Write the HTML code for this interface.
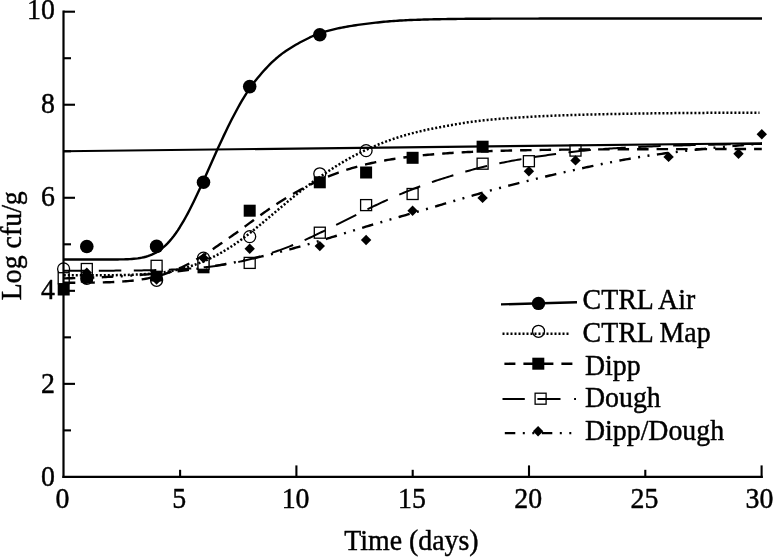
<!DOCTYPE html>
<html lang="en"><head><meta charset="utf-8"><title>Log cfu/g vs Time (days)</title>
<style>html,body{margin:0;padding:0;background:#fff}svg{display:block;will-change:transform}text{font-family:"Liberation Serif","Times New Roman",serif;fill:#000;stroke:#000;stroke-width:0.45px;stroke-linejoin:round}</style></head><body>
<svg width="774" height="557" viewBox="0 0 774 557">
<rect width="774" height="557" fill="#fff"/>
<g id="markers">
<circle cx="86.8" cy="246.5" r="6.8" fill="#000"/>
<circle cx="156.6" cy="246.4" r="6.8" fill="#000"/>
<circle cx="203.5" cy="182.3" r="6.8" fill="#000"/>
<circle cx="249.7" cy="86.6" r="6.8" fill="#000"/>
<circle cx="319.8" cy="34.8" r="6.8" fill="#000"/>
<circle cx="63.6" cy="268.9" r="6.0" fill="#fff" stroke="#000" stroke-width="1.3"/>
<circle cx="86.8" cy="278.4" r="6.0" fill="#fff" stroke="#000" stroke-width="1.3"/>
<circle cx="156.6" cy="280.3" r="6.0" fill="#fff" stroke="#000" stroke-width="1.3"/>
<circle cx="203.5" cy="258.1" r="6.0" fill="#fff" stroke="#000" stroke-width="1.3"/>
<circle cx="249.7" cy="236.6" r="6.0" fill="#fff" stroke="#000" stroke-width="1.3"/>
<circle cx="319.8" cy="173.8" r="6.0" fill="#fff" stroke="#000" stroke-width="1.3"/>
<circle cx="366.1" cy="150.6" r="6.0" fill="#fff" stroke="#000" stroke-width="1.3"/>
<rect x="57.70" y="283.50" width="12" height="12" fill="#000"/>
<rect x="80.80" y="270.70" width="12" height="12" fill="#000"/>
<rect x="150.60" y="269.50" width="12" height="12" fill="#000"/>
<rect x="197.50" y="261.30" width="12" height="12" fill="#000"/>
<rect x="243.70" y="204.70" width="12" height="12" fill="#000"/>
<rect x="313.80" y="176.30" width="12" height="12" fill="#000"/>
<rect x="360.10" y="166.50" width="12" height="12" fill="#000"/>
<rect x="406.60" y="151.80" width="12" height="12" fill="#000"/>
<rect x="476.60" y="140.70" width="12" height="12" fill="#000"/>
<rect x="58.20" y="272.70" width="11.0" height="11.0" fill="#fff" stroke="#000" stroke-width="1.3"/>
<rect x="81.30" y="263.50" width="11.0" height="11.0" fill="#fff" stroke="#000" stroke-width="1.3"/>
<rect x="151.10" y="260.30" width="11.0" height="11.0" fill="#fff" stroke="#000" stroke-width="1.3"/>
<rect x="198.00" y="258.30" width="11.0" height="11.0" fill="#fff" stroke="#000" stroke-width="1.3"/>
<rect x="244.20" y="257.40" width="11.0" height="11.0" fill="#fff" stroke="#000" stroke-width="1.3"/>
<rect x="314.30" y="227.20" width="11.0" height="11.0" fill="#fff" stroke="#000" stroke-width="1.3"/>
<rect x="360.60" y="199.60" width="11.0" height="11.0" fill="#fff" stroke="#000" stroke-width="1.3"/>
<rect x="407.10" y="188.50" width="11.0" height="11.0" fill="#fff" stroke="#000" stroke-width="1.3"/>
<rect x="477.10" y="158.20" width="11.0" height="11.0" fill="#fff" stroke="#000" stroke-width="1.3"/>
<rect x="523.40" y="155.70" width="11.0" height="11.0" fill="#fff" stroke="#000" stroke-width="1.3"/>
<rect x="570.00" y="145.10" width="11.0" height="11.0" fill="#fff" stroke="#000" stroke-width="1.3"/>
<path d="M86.8,267.6 L92.0,272.8 L86.8,278.0 L81.6,272.8 Z" fill="#000"/>
<path d="M156.6,274.3 L161.79999999999998,279.5 L156.6,284.7 L151.4,279.5 Z" fill="#000"/>
<path d="M203.5,252.90000000000003 L208.7,258.1 L203.5,263.3 L198.3,258.1 Z" fill="#000"/>
<path d="M249.7,243.5 L254.89999999999998,248.7 L249.7,253.89999999999998 L244.5,248.7 Z" fill="#000"/>
<path d="M319.8,240.9 L325.0,246.1 L319.8,251.29999999999998 L314.6,246.1 Z" fill="#000"/>
<path d="M366.1,234.8 L371.3,240 L366.1,245.2 L360.90000000000003,240 Z" fill="#000"/>
<path d="M412.6,205.60000000000002 L417.8,210.8 L412.6,216.0 L407.40000000000003,210.8 Z" fill="#000"/>
<path d="M482.6,192.70000000000002 L487.8,197.9 L482.6,203.1 L477.40000000000003,197.9 Z" fill="#000"/>
<path d="M528.9,166.0 L534.1,171.2 L528.9,176.39999999999998 L523.6999999999999,171.2 Z" fill="#000"/>
<path d="M575.5,155.20000000000002 L580.7,160.4 L575.5,165.6 L570.3,160.4 Z" fill="#000"/>
<path d="M668.6,151.70000000000002 L673.8000000000001,156.9 L668.6,162.1 L663.4,156.9 Z" fill="#000"/>
<path d="M738.5,148.60000000000002 L743.7,153.8 L738.5,159.0 L733.3,153.8 Z" fill="#000"/>
<path d="M761.8,129.10000000000002 L767.0,134.3 L761.8,139.5 L756.5999999999999,134.3 Z" fill="#000"/>
</g>
<g id="lines" fill="none" stroke="#000" stroke-linejoin="round">
<path d="M63.8,151.3 L762,143.2" stroke-width="2.1"/>
<path d="M63.8,259.52 L65.8,259.52 L67.8,259.52 L69.8,259.52 L71.8,259.52 L73.8,259.52 L75.8,259.52 L77.8,259.52 L79.8,259.52 L81.8,259.52 L83.8,259.52 L85.8,259.52 L87.8,259.52 L89.8,259.52 L91.8,259.52 L93.8,259.52 L95.8,259.52 L97.8,259.52 L99.8,259.52 L101.8,259.52 L103.8,259.51 L105.8,259.51 L107.8,259.51 L109.8,259.50 L111.8,259.49 L113.8,259.48 L115.8,259.46 L117.8,259.44 L119.8,259.41 L121.8,259.38 L123.8,259.33 L125.8,259.26 L127.8,259.18 L129.8,259.08 L131.8,258.95 L133.8,258.78 L135.8,258.58 L137.8,258.34 L139.8,258.04 L141.8,257.67 L143.8,257.24 L145.8,256.73 L147.8,256.13 L149.8,255.43 L151.8,254.62 L153.8,253.70 L155.8,252.64 L157.8,251.44 L159.8,250.09 L161.8,248.59 L163.8,246.92 L165.8,245.09 L167.8,243.07 L169.8,240.88 L171.8,238.51 L173.8,235.96 L175.8,233.23 L177.8,230.32 L179.8,227.24 L181.8,223.99 L183.8,220.58 L185.8,217.01 L187.8,213.31 L189.8,209.47 L191.8,205.51 L193.8,201.43 L195.8,197.26 L197.8,193.01 L199.8,188.68 L201.8,184.29 L203.8,179.86 L205.8,175.39 L207.8,170.91 L209.8,166.41 L211.8,161.92 L213.8,157.45 L215.8,152.99 L217.8,148.58 L219.8,144.21 L221.8,139.89 L223.8,135.63 L225.8,131.44 L227.8,127.32 L229.8,123.28 L231.8,119.33 L233.8,115.47 L235.8,111.70 L237.8,108.02 L239.8,104.44 L241.8,100.96 L243.8,97.59 L245.8,94.32 L247.8,91.22 L249.8,88.28 L251.8,85.48 L253.8,82.82 L255.8,80.26 L257.8,77.79 L259.8,75.40 L261.8,73.06 L263.8,70.77 L265.8,68.57 L267.8,66.45 L269.8,64.41 L271.8,62.46 L273.8,60.58 L275.8,58.78 L277.8,57.07 L279.8,55.43 L281.8,53.87 L283.8,52.39 L285.8,51.00 L287.8,49.68 L289.8,48.42 L291.8,47.19 L293.8,46.00 L295.8,44.82 L297.8,43.68 L299.8,42.56 L301.8,41.49 L303.8,40.45 L305.8,39.45 L307.8,38.45 L309.8,37.45 L311.8,36.51 L313.8,35.65 L315.8,34.84 L317.8,34.06 L319.8,33.33 L321.8,32.65 L323.8,32.00 L325.8,31.40 L327.8,30.84 L329.8,30.31 L331.8,29.81 L333.8,29.33 L335.8,28.88 L337.8,28.44 L339.8,28.03 L341.8,27.63 L343.8,27.24 L345.8,26.87 L347.8,26.51 L349.8,26.17 L351.8,25.84 L353.8,25.52 L355.8,25.22 L357.8,24.92 L359.8,24.64 L361.8,24.36 L363.8,24.10 L365.8,23.84 L367.8,23.60 L369.8,23.36 L371.8,23.13 L373.8,22.90 L375.8,22.67 L377.8,22.44 L379.8,22.22 L381.8,22.01 L383.8,21.80 L385.8,21.61 L387.8,21.43 L389.8,21.26 L391.8,21.11 L393.8,20.97 L395.8,20.83 L397.8,20.70 L399.8,20.57 L401.8,20.45 L403.8,20.34 L405.8,20.24 L407.8,20.14 L409.8,20.05 L411.8,19.97 L413.8,19.90 L415.8,19.83 L417.8,19.76 L419.8,19.69 L421.8,19.63 L423.8,19.57 L425.8,19.52 L427.8,19.46 L429.8,19.41 L431.8,19.36 L433.8,19.32 L435.8,19.27 L437.8,19.23 L439.8,19.19 L441.8,19.15 L443.8,19.12 L445.8,19.08 L447.8,19.05 L449.8,19.02 L451.8,18.99 L453.8,18.96 L455.8,18.93 L457.8,18.91 L459.8,18.89 L461.8,18.86 L463.8,18.84 L465.8,18.82 L467.8,18.81 L469.8,18.79 L471.8,18.77 L473.8,18.76 L475.8,18.75 L477.8,18.74 L479.8,18.72 L481.8,18.71 L483.8,18.71 L485.8,18.70 L487.8,18.69 L489.8,18.68 L491.8,18.67 L493.8,18.67 L495.8,18.66 L497.8,18.65 L499.8,18.65 L501.8,18.64 L503.8,18.64 L505.8,18.63 L507.8,18.63 L509.8,18.62 L511.8,18.62 L513.8,18.61 L515.8,18.61 L517.8,18.61 L519.8,18.60 L521.8,18.60 L523.8,18.60 L525.8,18.59 L527.8,18.59 L529.8,18.59 L531.8,18.58 L533.8,18.58 L535.8,18.58 L537.8,18.58 L539.8,18.57 L541.8,18.57 L543.8,18.57 L545.8,18.57 L547.8,18.57 L549.8,18.57 L551.8,18.56 L553.8,18.56 L555.8,18.56 L557.8,18.56 L559.8,18.56 L561.8,18.56 L563.8,18.56 L565.8,18.56 L567.8,18.55 L569.8,18.55 L571.8,18.55 L573.8,18.55 L575.8,18.55 L577.8,18.55 L579.8,18.55 L581.8,18.55 L583.8,18.55 L585.8,18.55 L587.8,18.55 L589.8,18.55 L591.8,18.55 L593.8,18.55 L595.8,18.55 L597.8,18.54 L599.8,18.54 L601.8,18.54 L603.8,18.54 L605.8,18.54 L607.8,18.54 L609.8,18.54 L611.8,18.54 L613.8,18.54 L615.8,18.54 L617.8,18.54 L619.8,18.54 L621.8,18.54 L623.8,18.54 L625.8,18.54 L627.8,18.54 L629.8,18.54 L631.8,18.54 L633.8,18.54 L635.8,18.54 L637.8,18.54 L639.8,18.54 L641.8,18.54 L643.8,18.54 L645.8,18.54 L647.8,18.54 L649.8,18.54 L651.8,18.54 L653.8,18.54 L655.8,18.54 L657.8,18.54 L659.8,18.54 L661.8,18.54 L663.8,18.54 L665.8,18.54 L667.8,18.54 L669.8,18.54 L671.8,18.54 L673.8,18.54 L675.8,18.54 L677.8,18.54 L679.8,18.54 L681.8,18.54 L683.8,18.54 L685.8,18.54 L687.8,18.54 L689.8,18.54 L691.8,18.54 L693.8,18.54 L695.8,18.54 L697.8,18.54 L699.8,18.54 L701.8,18.54 L703.8,18.54 L705.8,18.54 L707.8,18.54 L709.8,18.54 L711.8,18.54 L713.8,18.54 L715.8,18.54 L717.8,18.54 L719.8,18.54 L721.8,18.54 L723.8,18.54 L725.8,18.54 L727.8,18.54 L729.8,18.54 L731.8,18.54 L733.8,18.54 L735.8,18.54 L737.8,18.54 L739.8,18.54 L741.8,18.54 L743.8,18.54 L745.8,18.54 L747.8,18.54 L749.8,18.54 L751.8,18.54 L753.8,18.54 L755.8,18.54 L757.8,18.54 L759.8,18.54 L761.8,18.54 L762.0,18.54" stroke-width="2.4"/>
<path d="M63.8,275.36 L65.8,275.35 L67.8,275.35 L69.8,275.35 L71.8,275.35 L73.8,275.35 L75.8,275.35 L77.8,275.34 L79.8,275.34 L81.8,275.34 L83.8,275.34 L85.8,275.33 L87.8,275.33 L89.8,275.32 L91.8,275.32 L93.8,275.31 L95.8,275.30 L97.8,275.29 L99.8,275.28 L101.8,275.27 L103.8,275.26 L105.8,275.24 L107.8,275.23 L109.8,275.21 L111.8,275.18 L113.8,275.16 L115.8,275.13 L117.8,275.10 L119.8,275.07 L121.8,275.03 L123.8,274.99 L125.8,274.94 L127.8,274.89 L129.8,274.83 L131.8,274.76 L133.8,274.69 L135.8,274.61 L137.8,274.52 L139.8,274.42 L141.8,274.31 L143.8,274.20 L145.8,274.07 L147.8,273.92 L149.8,273.77 L151.8,273.60 L153.8,273.42 L155.8,273.22 L157.8,273.00 L159.8,272.77 L161.8,272.52 L163.8,272.25 L165.8,271.95 L167.8,271.64 L169.8,271.30 L171.8,270.94 L173.8,270.55 L175.8,270.14 L177.8,269.70 L179.8,269.23 L181.8,268.73 L183.8,268.21 L185.8,267.65 L187.8,267.06 L189.8,266.44 L191.8,265.79 L193.8,265.11 L195.8,264.40 L197.8,263.67 L199.8,262.90 L201.8,262.11 L203.8,261.28 L205.8,260.42 L207.8,259.53 L209.8,258.60 L211.8,257.65 L213.8,256.65 L215.8,255.63 L217.8,254.57 L219.8,253.47 L221.8,252.35 L223.8,251.18 L225.8,249.99 L227.8,248.76 L229.8,247.49 L231.8,246.20 L233.8,244.87 L235.8,243.51 L237.8,242.12 L239.8,240.70 L241.8,239.25 L243.8,237.77 L245.8,236.26 L247.8,234.73 L249.8,233.17 L251.8,231.59 L253.8,229.99 L255.8,228.37 L257.8,226.74 L259.8,225.09 L261.8,223.44 L263.8,221.77 L265.8,220.10 L267.8,218.42 L269.8,216.74 L271.8,215.05 L273.8,213.36 L275.8,211.66 L277.8,209.97 L279.8,208.29 L281.8,206.60 L283.8,204.92 L285.8,203.25 L287.8,201.59 L289.8,199.93 L291.8,198.28 L293.8,196.65 L295.8,195.04 L297.8,193.44 L299.8,191.85 L301.8,190.29 L303.8,188.74 L305.8,187.20 L307.8,185.69 L309.8,184.19 L311.8,182.71 L313.8,181.25 L315.8,179.81 L317.8,178.38 L319.8,176.98 L321.8,175.59 L323.8,174.23 L325.8,172.88 L327.8,171.55 L329.8,170.23 L331.8,168.94 L333.8,167.66 L335.8,166.41 L337.8,165.17 L339.8,163.94 L341.8,162.74 L343.8,161.56 L345.8,160.40 L347.8,159.26 L349.8,158.14 L351.8,157.05 L353.8,155.97 L355.8,154.92 L357.8,153.89 L359.8,152.88 L361.8,151.89 L363.8,150.93 L365.8,149.98 L367.8,149.06 L369.8,148.15 L371.8,147.27 L373.8,146.40 L375.8,145.56 L377.8,144.73 L379.8,143.92 L381.8,143.13 L383.8,142.36 L385.8,141.61 L387.8,140.88 L389.8,140.16 L391.8,139.46 L393.8,138.78 L395.8,138.11 L397.8,137.46 L399.8,136.83 L401.8,136.22 L403.8,135.62 L405.8,135.03 L407.8,134.46 L409.8,133.91 L411.8,133.38 L413.8,132.85 L415.8,132.35 L417.8,131.85 L419.8,131.37 L421.8,130.90 L423.8,130.45 L425.8,130.00 L427.8,129.57 L429.8,129.15 L431.8,128.74 L433.8,128.34 L435.8,127.95 L437.8,127.57 L439.8,127.20 L441.8,126.83 L443.8,126.46 L445.8,126.10 L447.8,125.73 L449.8,125.37 L451.8,125.02 L453.8,124.66 L455.8,124.31 L457.8,123.97 L459.8,123.63 L461.8,123.30 L463.8,122.98 L465.8,122.67 L467.8,122.36 L469.8,122.07 L471.8,121.78 L473.8,121.51 L475.8,121.25 L477.8,121.00 L479.8,120.77 L481.8,120.55 L483.8,120.34 L485.8,120.13 L487.8,119.93 L489.8,119.73 L491.8,119.54 L493.8,119.36 L495.8,119.18 L497.8,119.01 L499.8,118.84 L501.8,118.68 L503.8,118.52 L505.8,118.37 L507.8,118.22 L509.8,118.08 L511.8,117.93 L513.8,117.80 L515.8,117.66 L517.8,117.53 L519.8,117.40 L521.8,117.28 L523.8,117.16 L525.8,117.04 L527.8,116.93 L529.8,116.81 L531.8,116.71 L533.8,116.60 L535.8,116.50 L537.8,116.40 L539.8,116.30 L541.8,116.20 L543.8,116.11 L545.8,116.02 L547.8,115.93 L549.8,115.85 L551.8,115.76 L553.8,115.68 L555.8,115.60 L557.8,115.53 L559.8,115.45 L561.8,115.38 L563.8,115.31 L565.8,115.24 L567.8,115.17 L569.8,115.10 L571.8,115.04 L573.8,114.98 L575.8,114.91 L577.8,114.85 L579.8,114.80 L581.8,114.74 L583.8,114.68 L585.8,114.63 L587.8,114.58 L589.8,114.53 L591.8,114.48 L593.8,114.43 L595.8,114.38 L597.8,114.33 L599.8,114.29 L601.8,114.24 L603.8,114.20 L605.8,114.15 L607.8,114.11 L609.8,114.07 L611.8,114.03 L613.8,113.99 L615.8,113.95 L617.8,113.91 L619.8,113.88 L621.8,113.84 L623.8,113.80 L625.8,113.77 L627.8,113.73 L629.8,113.70 L631.8,113.67 L633.8,113.63 L635.8,113.60 L637.8,113.57 L639.8,113.54 L641.8,113.51 L643.8,113.48 L645.8,113.45 L647.8,113.43 L649.8,113.40 L651.8,113.37 L653.8,113.35 L655.8,113.32 L657.8,113.30 L659.8,113.27 L661.8,113.25 L663.8,113.23 L665.8,113.20 L667.8,113.18 L669.8,113.16 L671.8,113.14 L673.8,113.12 L675.8,113.10 L677.8,113.09 L679.8,113.07 L681.8,113.05 L683.8,113.04 L685.8,113.02 L687.8,113.00 L689.8,112.99 L691.8,112.97 L693.8,112.96 L695.8,112.94 L697.8,112.93 L699.8,112.91 L701.8,112.90 L703.8,112.89 L705.8,112.88 L707.8,112.86 L709.8,112.85 L711.8,112.84 L713.8,112.83 L715.8,112.81 L717.8,112.80 L719.8,112.79 L721.8,112.78 L723.8,112.77 L725.8,112.76 L727.8,112.75 L729.8,112.74 L731.8,112.73 L733.8,112.72 L735.8,112.71 L737.8,112.70 L739.8,112.70 L741.8,112.69 L743.8,112.68 L745.8,112.67 L747.8,112.67 L749.8,112.66 L751.8,112.65 L753.8,112.65 L755.8,112.64 L757.8,112.63 L759.5,112.63" stroke-width="2.5" stroke-dasharray="2 2"/>
<path d="M63.8,282.78 L65.8,282.78 L67.8,282.77 L69.8,282.77 L71.8,282.76 L73.8,282.75 L75.8,282.74 L77.8,282.73 L79.8,282.72 L81.8,282.71 L83.8,282.69 L85.8,282.68 L87.8,282.66 L89.8,282.63 L91.8,282.61 L93.8,282.58 L95.8,282.55 L97.8,282.51 L99.8,282.47 L101.8,282.43 L103.8,282.37 L105.8,282.32 L107.8,282.25 L109.8,282.18 L111.8,282.10 L113.8,282.01 L115.8,281.92 L117.8,281.81 L119.8,281.69 L121.8,281.56 L123.8,281.42 L125.8,281.26 L127.8,281.09 L129.8,280.90 L131.8,280.70 L133.8,280.47 L135.8,280.23 L137.8,279.97 L139.8,279.69 L141.8,279.38 L143.8,279.06 L145.8,278.71 L147.8,278.33 L149.8,277.93 L151.8,277.49 L153.8,277.04 L155.8,276.55 L157.8,276.03 L159.8,275.48 L161.8,274.90 L163.8,274.28 L165.8,273.64 L167.8,272.96 L169.8,272.24 L171.8,271.50 L173.8,270.71 L175.8,269.90 L177.8,269.04 L179.8,268.16 L181.8,267.23 L183.8,266.28 L185.8,265.29 L187.8,264.26 L189.8,263.21 L191.8,262.12 L193.8,260.99 L195.8,259.84 L197.8,258.66 L199.8,257.45 L201.8,256.21 L203.8,254.96 L205.8,253.69 L207.8,252.40 L209.8,251.10 L211.8,249.78 L213.8,248.44 L215.8,247.09 L217.8,245.73 L219.8,244.35 L221.8,242.96 L223.8,241.56 L225.8,240.15 L227.8,238.75 L229.8,237.37 L231.8,236.00 L233.8,234.61 L235.8,233.22 L237.8,231.79 L239.8,230.33 L241.8,228.84 L243.8,227.35 L245.8,225.87 L247.8,224.39 L249.8,222.91 L251.8,221.43 L253.8,219.97 L255.8,218.51 L257.8,217.06 L259.8,215.62 L261.8,214.19 L263.8,212.77 L265.8,211.37 L267.8,209.97 L269.8,208.60 L271.8,207.24 L273.8,205.89 L275.8,204.57 L277.8,203.26 L279.8,201.97 L281.8,200.69 L283.8,199.44 L285.8,198.21 L287.8,196.99 L289.8,195.80 L291.8,194.62 L293.8,193.46 L295.8,192.32 L297.8,191.19 L299.8,190.08 L301.8,188.99 L303.8,187.91 L305.8,186.86 L307.8,185.82 L309.8,184.81 L311.8,183.81 L313.8,182.84 L315.8,181.88 L317.8,180.95 L319.8,180.04 L321.8,179.15 L323.8,178.28 L325.8,177.43 L327.8,176.61 L329.8,175.81 L331.8,175.03 L333.8,174.27 L335.8,173.53 L337.8,172.80 L339.8,172.09 L341.8,171.40 L343.8,170.73 L345.8,170.08 L347.8,169.44 L349.8,168.81 L351.8,168.21 L353.8,167.62 L355.8,167.05 L357.8,166.49 L359.8,165.95 L361.8,165.42 L363.8,164.91 L365.8,164.42 L367.8,163.94 L369.8,163.47 L371.8,163.02 L373.8,162.59 L375.8,162.17 L377.8,161.76 L379.8,161.37 L381.8,160.99 L383.8,160.62 L385.8,160.26 L387.8,159.92 L389.8,159.58 L391.8,159.25 L393.8,158.94 L395.8,158.63 L397.8,158.33 L399.8,158.04 L401.8,157.76 L403.8,157.48 L405.8,157.22 L407.8,156.96 L409.8,156.71 L411.8,156.47 L413.8,156.24 L415.8,156.01 L417.8,155.79 L419.8,155.58 L421.8,155.37 L423.8,155.17 L425.8,154.98 L427.8,154.79 L429.8,154.61 L431.8,154.43 L433.8,154.26 L435.8,154.09 L437.8,153.93 L439.8,153.77 L441.8,153.62 L443.8,153.48 L445.8,153.33 L447.8,153.20 L449.8,153.06 L451.8,152.94 L453.8,152.81 L455.8,152.69 L457.8,152.57 L459.8,152.46 L461.8,152.35 L463.8,152.24 L465.8,152.14 L467.8,152.04 L469.8,151.94 L471.8,151.85 L473.8,151.76 L475.8,151.67 L477.8,151.58 L479.8,151.50 L481.8,151.42 L483.8,151.35 L485.8,151.27 L487.8,151.20 L489.8,151.13 L491.8,151.06 L493.8,150.99 L495.8,150.93 L497.8,150.87 L499.8,150.81 L501.8,150.75 L503.8,150.70 L505.8,150.64 L507.8,150.59 L509.8,150.54 L511.8,150.49 L513.8,150.44 L515.8,150.40 L517.8,150.35 L519.8,150.31 L521.8,150.27 L523.8,150.23 L525.8,150.19 L527.8,150.15 L529.8,150.11 L531.8,150.08 L533.8,150.04 L535.8,150.01 L537.8,149.98 L539.8,149.95 L541.8,149.92 L543.8,149.89 L545.8,149.86 L547.8,149.83 L549.8,149.81 L551.8,149.78 L553.8,149.76 L555.8,149.73 L557.8,149.71 L559.8,149.69 L561.8,149.67 L563.8,149.65 L565.8,149.62 L567.8,149.61 L569.8,149.59 L571.8,149.57 L573.8,149.55 L575.8,149.53 L577.8,149.52 L579.8,149.50 L581.8,149.48 L583.8,149.47 L585.8,149.45 L587.8,149.44 L589.8,149.43 L591.8,149.41 L593.8,149.40 L595.8,149.39 L597.8,149.38 L599.8,149.36 L601.8,149.35 L603.8,149.34 L605.8,149.33 L607.8,149.32 L609.8,149.31 L611.8,149.30 L613.8,149.29 L615.8,149.28 L617.8,149.28 L619.8,149.27 L621.8,149.26 L623.8,149.25 L625.8,149.24 L627.8,149.24 L629.8,149.23 L631.8,149.22 L633.8,149.22 L635.8,149.21 L637.8,149.20 L639.8,149.20 L641.8,149.19 L643.8,149.19 L645.8,149.18 L647.8,149.18 L649.8,149.17 L651.8,149.17 L653.8,149.16 L655.8,149.16 L657.8,149.15 L659.8,149.15 L661.8,149.14 L663.8,149.14 L665.8,149.14 L667.8,149.13 L669.8,149.13 L671.8,149.12 L673.8,149.12 L675.8,149.12 L677.8,149.11 L679.8,149.11 L681.8,149.11 L683.8,149.11 L685.8,149.10 L687.8,149.10 L689.8,149.10 L691.8,149.09 L693.8,149.09 L695.8,149.09 L697.8,149.09 L699.8,149.08 L701.8,149.08 L703.8,149.08 L705.8,149.08 L707.8,149.08 L709.8,149.07 L711.8,149.07 L713.8,149.07 L715.8,149.07 L717.8,149.07 L719.8,149.07 L721.8,149.06 L723.8,149.06 L725.8,149.06 L727.8,149.06 L729.8,149.06 L731.8,149.06 L733.8,149.06 L735.8,149.05 L737.8,149.05 L739.8,149.05 L741.8,149.05 L743.8,149.05 L745.8,149.05 L747.8,149.05 L749.8,149.05 L751.8,149.05 L753.8,149.05 L755.8,149.04 L757.8,149.04 L759.8,149.04 L761.8,149.04" stroke-width="2.4" stroke-dasharray="11.5 8"/>
<path d="M63.8,270.72 L65.8,270.72 L67.8,270.72 L69.8,270.72 L71.8,270.72 L73.8,270.72 L75.8,270.71 L77.8,270.71 L79.8,270.71 L81.8,270.71 L83.8,270.71 L85.8,270.70 L87.8,270.70 L89.8,270.70 L91.8,270.69 L93.8,270.69 L95.8,270.69 L97.8,270.68 L99.8,270.68 L101.8,270.67 L103.8,270.67 L105.8,270.66 L107.8,270.65 L109.8,270.64 L111.8,270.64 L113.8,270.63 L115.8,270.62 L117.8,270.61 L119.8,270.59 L121.8,270.58 L123.8,270.57 L125.8,270.55 L127.8,270.54 L129.8,270.52 L131.8,270.50 L133.8,270.48 L135.8,270.45 L137.8,270.43 L139.8,270.40 L141.8,270.38 L143.8,270.34 L145.8,270.31 L147.8,270.28 L149.8,270.24 L151.8,270.20 L153.8,270.15 L155.8,270.10 L157.8,270.05 L159.8,270.00 L161.8,269.94 L163.8,269.88 L165.8,269.81 L167.8,269.74 L169.8,269.66 L171.8,269.58 L173.8,269.49 L175.8,269.40 L177.8,269.30 L179.8,269.20 L181.8,269.09 L183.8,268.97 L185.8,268.85 L187.8,268.71 L189.8,268.57 L191.8,268.43 L193.8,268.27 L195.8,268.10 L197.8,267.93 L199.8,267.75 L201.8,267.55 L203.8,267.35 L205.8,267.14 L207.8,266.91 L209.8,266.68 L211.8,266.43 L213.8,266.17 L215.8,265.90 L217.8,265.62 L219.8,265.33 L221.8,265.02 L223.8,264.70 L225.8,264.36 L227.8,264.01 L229.8,263.65 L231.8,263.27 L233.8,262.88 L235.8,262.47 L237.8,262.05 L239.8,261.62 L241.8,261.16 L243.8,260.70 L245.8,260.21 L247.8,259.72 L249.8,259.20 L251.8,258.67 L253.8,258.14 L255.8,257.59 L257.8,257.03 L259.8,256.46 L261.8,255.88 L263.8,255.29 L265.8,254.68 L267.8,254.07 L269.8,253.43 L271.8,252.79 L273.8,252.13 L275.8,251.46 L277.8,250.77 L279.8,250.07 L281.8,249.36 L283.8,248.63 L285.8,247.88 L287.8,247.12 L289.8,246.34 L291.8,245.55 L293.8,244.74 L295.8,243.92 L297.8,243.08 L299.8,242.22 L301.8,241.35 L303.8,240.46 L305.8,239.56 L307.8,238.64 L309.8,237.72 L311.8,236.79 L313.8,235.84 L315.8,234.89 L317.8,233.94 L319.8,232.97 L321.8,232.00 L323.8,231.03 L325.8,230.05 L327.8,229.06 L329.8,228.07 L331.8,227.07 L333.8,226.07 L335.8,225.07 L337.8,224.07 L339.8,223.07 L341.8,222.06 L343.8,221.05 L345.8,220.05 L347.8,219.04 L349.8,218.03 L351.8,217.03 L353.8,216.03 L355.8,215.03 L357.8,214.03 L359.8,213.03 L361.8,212.04 L363.8,211.05 L365.8,210.07 L367.8,209.09 L369.8,208.12 L371.8,207.15 L373.8,206.19 L375.8,205.23 L377.8,204.28 L379.8,203.33 L381.8,202.40 L383.8,201.47 L385.8,200.56 L387.8,199.65 L389.8,198.76 L391.8,197.87 L393.8,197.00 L395.8,196.13 L397.8,195.28 L399.8,194.43 L401.8,193.59 L403.8,192.76 L405.8,191.94 L407.8,191.13 L409.8,190.33 L411.8,189.53 L413.8,188.75 L415.8,187.97 L417.8,187.21 L419.8,186.45 L421.8,185.71 L423.8,184.98 L425.8,184.25 L427.8,183.54 L429.8,182.83 L431.8,182.14 L433.8,181.46 L435.8,180.78 L437.8,180.13 L439.8,179.48 L441.8,178.85 L443.8,178.22 L445.8,177.60 L447.8,176.98 L449.8,176.36 L451.8,175.74 L453.8,175.12 L455.8,174.51 L457.8,173.91 L459.8,173.31 L461.8,172.71 L463.8,172.13 L465.8,171.55 L467.8,170.98 L469.8,170.42 L471.8,169.87 L473.8,169.33 L475.8,168.80 L477.8,168.28 L479.8,167.77 L481.8,167.28 L483.8,166.79 L485.8,166.31 L487.8,165.85 L489.8,165.39 L491.8,164.94 L493.8,164.49 L495.8,164.06 L497.8,163.63 L499.8,163.22 L501.8,162.80 L503.8,162.40 L505.8,162.00 L507.8,161.61 L509.8,161.23 L511.8,160.85 L513.8,160.48 L515.8,160.12 L517.8,159.77 L519.8,159.42 L521.8,159.07 L523.8,158.74 L525.8,158.41 L527.8,158.08 L529.8,157.76 L531.8,157.45 L533.8,157.14 L535.8,156.84 L537.8,156.54 L539.8,156.25 L541.8,155.96 L543.8,155.67 L545.8,155.39 L547.8,155.11 L549.8,154.83 L551.8,154.55 L553.8,154.28 L555.8,154.00 L557.8,153.73 L559.8,153.47 L561.8,153.21 L563.8,152.95 L565.8,152.70 L567.8,152.45 L569.8,152.22 L571.8,151.98 L573.8,151.75 L575.8,151.52 L577.8,151.30 L579.8,151.07 L581.8,150.85 L583.8,150.64 L585.8,150.43 L587.8,150.23 L589.8,150.03 L591.8,149.85 L593.8,149.67 L595.8,149.50 L597.8,149.34 L599.8,149.19 L601.8,149.05 L603.8,148.91 L605.8,148.78 L607.8,148.65 L609.8,148.52 L611.8,148.39 L613.8,148.27 L615.8,148.15 L617.8,148.03 L619.8,147.92 L621.8,147.80 L623.8,147.69 L625.8,147.59 L627.8,147.48 L629.8,147.38 L631.8,147.28 L633.8,147.18 L635.8,147.08 L637.8,146.99 L639.8,146.90 L641.8,146.81 L643.8,146.72 L645.8,146.63 L647.8,146.55 L649.8,146.47 L651.8,146.39 L653.8,146.31 L655.8,146.23 L657.8,146.16 L659.8,146.08 L661.8,146.01 L663.8,145.94 L665.8,145.87 L667.8,145.81 L669.8,145.74 L671.8,145.68 L673.8,145.62 L675.8,145.56 L677.8,145.50 L679.8,145.44 L681.8,145.38 L683.8,145.32 L685.8,145.27 L687.8,145.22 L689.8,145.16 L691.8,145.11 L693.8,145.06 L695.8,145.02 L697.8,144.97 L699.8,144.92 L701.8,144.88 L703.8,144.83 L705.8,144.79 L707.8,144.75 L709.8,144.71 L711.8,144.67 L713.8,144.63 L715.8,144.59 L717.8,144.55 L719.8,144.51 L721.8,144.48 L723.8,144.44 L725.8,144.41 L727.8,144.37 L729.8,144.34 L731.8,144.31 L733.8,144.28 L735.8,144.25 L737.8,144.22 L739.8,144.19 L741.8,144.16 L743.8,144.13 L745.8,144.10 L747.8,144.08 L749.8,144.05 L751.8,144.03 L753.8,144.00 L755.8,143.98 L757.8,143.95 L759.8,143.93 L761.8,143.91 L762.0,143.91" stroke-width="2.0" stroke-dasharray="22.5 12.5"/>
<path d="M63.8,278.40 L65.8,278.35 L67.8,278.30 L69.8,278.25 L71.8,278.20 L73.8,278.15 L75.8,278.10 L77.8,278.04 L79.8,277.98 L81.8,277.92 L83.8,277.86 L85.8,277.79 L87.8,277.73 L89.8,277.66 L91.8,277.59 L93.8,277.51 L95.8,277.43 L97.8,277.36 L99.8,277.27 L101.8,277.19 L103.8,277.10 L105.8,277.01 L107.8,276.92 L109.8,276.82 L111.8,276.72 L113.8,276.62 L115.8,276.51 L117.8,276.40 L119.8,276.29 L121.8,276.18 L123.8,276.06 L125.8,275.94 L127.8,275.81 L129.8,275.68 L131.8,275.55 L133.8,275.41 L135.8,275.27 L137.8,275.12 L139.8,274.97 L141.8,274.82 L143.8,274.66 L145.8,274.50 L147.8,274.34 L149.8,274.17 L151.8,273.99 L153.8,273.82 L155.8,273.63 L157.8,273.44 L159.8,273.25 L161.8,273.06 L163.8,272.85 L165.8,272.65 L167.8,272.44 L169.8,272.22 L171.8,272.00 L173.8,271.77 L175.8,271.54 L177.8,271.30 L179.8,271.06 L181.8,270.82 L183.8,270.56 L185.8,270.31 L187.8,270.04 L189.8,269.78 L191.8,269.50 L193.8,269.22 L195.8,268.94 L197.8,268.65 L199.8,268.35 L201.8,268.05 L203.8,267.75 L205.8,267.44 L207.8,267.12 L209.8,266.79 L211.8,266.47 L213.8,266.13 L215.8,265.79 L217.8,265.44 L219.8,265.09 L221.8,264.74 L223.8,264.37 L225.8,264.00 L227.8,263.63 L229.8,263.25 L231.8,262.86 L233.8,262.47 L235.8,262.08 L237.8,261.67 L239.8,261.26 L241.8,260.85 L243.8,260.43 L245.8,260.01 L247.8,259.58 L249.8,259.14 L251.8,258.70 L253.8,258.25 L255.8,257.80 L257.8,257.34 L259.8,256.88 L261.8,256.41 L263.8,255.94 L265.8,255.46 L267.8,254.98 L269.8,254.49 L271.8,253.99 L273.8,253.50 L275.8,252.99 L277.8,252.48 L279.8,251.97 L281.8,251.45 L283.8,250.93 L285.8,250.41 L287.8,249.87 L289.8,249.34 L291.8,248.80 L293.8,248.25 L295.8,247.71 L297.8,247.15 L299.8,246.60 L301.8,246.04 L303.8,245.47 L305.8,244.90 L307.8,244.33 L309.8,243.76 L311.8,243.18 L313.8,242.60 L315.8,242.01 L317.8,241.42 L319.8,240.83 L321.8,240.24 L323.8,239.64 L325.8,239.04 L327.8,238.43 L329.8,237.83 L331.8,237.22 L333.8,236.61 L335.8,236.00 L337.8,235.38 L339.8,234.77 L341.8,234.15 L343.8,233.53 L345.8,232.91 L347.8,232.29 L349.8,231.66 L351.8,231.04 L353.8,230.42 L355.8,229.79 L357.8,229.16 L359.8,228.54 L361.8,227.91 L363.8,227.30 L365.8,226.69 L367.8,226.09 L369.8,225.49 L371.8,224.90 L373.8,224.31 L375.8,223.72 L377.8,223.14 L379.8,222.56 L381.8,221.99 L383.8,221.41 L385.8,220.83 L387.8,220.26 L389.8,219.68 L391.8,219.10 L393.8,218.52 L395.8,217.93 L397.8,217.34 L399.8,216.76 L401.8,216.18 L403.8,215.60 L405.8,215.03 L407.8,214.45 L409.8,213.88 L411.8,213.31 L413.8,212.74 L415.8,212.17 L417.8,211.60 L419.8,211.02 L421.8,210.45 L423.8,209.87 L425.8,209.29 L427.8,208.71 L429.8,208.12 L431.8,207.53 L433.8,206.94 L435.8,206.34 L437.8,205.74 L439.8,205.14 L441.8,204.55 L443.8,203.95 L445.8,203.36 L447.8,202.77 L449.8,202.18 L451.8,201.59 L453.8,201.01 L455.8,200.42 L457.8,199.84 L459.8,199.26 L461.8,198.68 L463.8,198.10 L465.8,197.52 L467.8,196.94 L469.8,196.37 L471.8,195.79 L473.8,195.22 L475.8,194.65 L477.8,194.08 L479.8,193.52 L481.8,192.95 L483.8,192.39 L485.8,191.83 L487.8,191.28 L489.8,190.72 L491.8,190.17 L493.8,189.62 L495.8,189.08 L497.8,188.54 L499.8,188.00 L501.8,187.46 L503.8,186.93 L505.8,186.40 L507.8,185.88 L509.8,185.36 L511.8,184.84 L513.8,184.32 L515.8,183.81 L517.8,183.30 L519.8,182.79 L521.8,182.29 L523.8,181.78 L525.8,181.29 L527.8,180.79 L529.8,180.30 L531.8,179.81 L533.8,179.32 L535.8,178.84 L537.8,178.36 L539.8,177.88 L541.8,177.40 L543.8,176.93 L545.8,176.46 L547.8,175.98 L549.8,175.52 L551.8,175.05 L553.8,174.59 L555.8,174.12 L557.8,173.66 L559.8,173.21 L561.8,172.75 L563.8,172.30 L565.8,171.85 L567.8,171.40 L569.8,170.95 L571.8,170.51 L573.8,170.07 L575.8,169.64 L577.8,169.20 L579.8,168.76 L581.8,168.32 L583.8,167.89 L585.8,167.45 L587.8,167.02 L589.8,166.59 L591.8,166.16 L593.8,165.73 L595.8,165.30 L597.8,164.88 L599.8,164.46 L601.8,164.05 L603.8,163.64 L605.8,163.24 L607.8,162.84 L609.8,162.44 L611.8,162.06 L613.8,161.67 L615.8,161.30 L617.8,160.92 L619.8,160.54 L621.8,160.16 L623.8,159.79 L625.8,159.42 L627.8,159.06 L629.8,158.70 L631.8,158.34 L633.8,157.99 L635.8,157.65 L637.8,157.31 L639.8,156.98 L641.8,156.66 L643.8,156.35 L645.8,156.04 L647.8,155.74 L649.8,155.46 L651.8,155.18 L653.8,154.90 L655.8,154.63 L657.8,154.36 L659.8,154.09 L661.8,153.82 L663.8,153.56 L665.8,153.30 L667.8,153.04 L669.8,152.79 L671.8,152.53 L673.8,152.28 L675.8,152.04 L677.8,151.79 L679.8,151.55 L681.8,151.31 L683.8,151.07 L685.8,150.84 L687.8,150.61 L689.8,150.38 L691.8,150.15 L693.8,149.93 L695.8,149.71 L697.8,149.49 L699.8,149.27 L701.8,149.05 L703.8,148.84 L705.8,148.63 L707.8,148.42 L709.8,148.22 L711.8,148.01 L713.8,147.81 L715.8,147.61 L717.8,147.42 L719.8,147.22 L721.8,147.03 L723.8,146.84 L725.8,146.65 L727.8,146.46 L729.8,146.28 L731.8,146.10 L733.8,145.92 L735.8,145.74 L737.8,145.56 L739.8,145.39 L741.8,145.21 L743.8,145.04 L745.8,144.88 L747.8,144.71 L749.8,144.54 L751.8,144.38 L753.8,144.22 L755.8,144.06 L757.8,143.90 L759.8,143.75 L761.8,143.59 L762.0,143.58" stroke-width="2.4" stroke-dasharray="11.5 7.5 2 7.5 2 7.5"/>
</g>
<g id="axes" stroke="#000" stroke-width="2.2" fill="none">
<path d="M63.5,10.4 V478.0"/>
<path d="M62.4,476.9 H762.8"/>
<path d="M63.5,430.38 H71.0" stroke-width="2.1"/>
<path d="M63.5,383.86 H75.0" stroke-width="2.1"/>
<path d="M63.5,337.34 H71.0" stroke-width="2.1"/>
<path d="M63.5,290.82 H75.0" stroke-width="2.1"/>
<path d="M63.5,244.30 H71.0" stroke-width="2.1"/>
<path d="M63.5,197.78 H75.0" stroke-width="2.1"/>
<path d="M63.5,151.26 H71.0" stroke-width="2.1"/>
<path d="M63.5,104.74 H75.0" stroke-width="2.1"/>
<path d="M63.5,58.22 H71.0" stroke-width="2.1"/>
<path d="M63.5,11.70 H75.0" stroke-width="2.1"/>
<path d="M180.10,469.8 V477.9" stroke-width="2.1"/>
<path d="M296.40,465.4 V477.9" stroke-width="2.1"/>
<path d="M412.70,469.8 V477.9" stroke-width="2.1"/>
<path d="M529.00,465.4 V477.9" stroke-width="2.1"/>
<path d="M645.30,469.8 V477.9" stroke-width="2.1"/>
<path d="M761.60,465.4 V477.9" stroke-width="2.1"/>
</g>
<g id="ylabels">
<text transform="translate(54.8,485.9) scale(0.96,1)" font-size="29.0" text-anchor="end">0</text>
<text transform="translate(54.8,392.6) scale(0.96,1)" font-size="29.0" text-anchor="end">2</text>
<text transform="translate(54.8,299.3) scale(0.96,1)" font-size="29.0" text-anchor="end">4</text>
<text transform="translate(54.8,206.0) scale(0.96,1)" font-size="29.0" text-anchor="end">6</text>
<text transform="translate(54.8,112.7) scale(0.96,1)" font-size="29.0" text-anchor="end">8</text>
<text transform="translate(54.8,19.4) scale(0.96,1)" font-size="29.0" text-anchor="end">10</text>
</g>
<g id="xlabels">
<text transform="translate(62.5,508.4) scale(0.96,1)" font-size="29.0" text-anchor="middle">0</text>
<text transform="translate(179.3,508.4) scale(0.96,1)" font-size="29.0" text-anchor="middle">5</text>
<text transform="translate(295.6,508.4) scale(0.96,1)" font-size="29.0" text-anchor="middle">10</text>
<text transform="translate(411.9,508.4) scale(0.96,1)" font-size="29.0" text-anchor="middle">15</text>
<text transform="translate(528.2,508.4) scale(0.96,1)" font-size="29.0" text-anchor="middle">20</text>
<text transform="translate(644.5,508.4) scale(0.96,1)" font-size="29.0" text-anchor="middle">25</text>
<text transform="translate(759.5,508.4) scale(0.96,1)" font-size="29.0" text-anchor="middle">30</text>
</g>
<text transform="translate(411.4,550.3) scale(0.96,1)" font-size="29.0" text-anchor="middle">Time (days)</text>
<text transform="translate(21.2,245.7) rotate(-90) scale(0.96,1)" font-size="29.0" text-anchor="middle">Log cfu/g</text>
<g id="legend">
<g fill="none" stroke="#000">
<path d="M501,304.4 L577,302.2" stroke-width="2.4"/>
<path d="M502.5,333.8 H570" stroke-width="2.5" stroke-dasharray="2 2"/>
<path d="M504.4,363.8 H573" stroke-width="2.4" stroke-dasharray="11 8"/>
</g>
<circle cx="538.5" cy="303.4" r="6.7" fill="#000"/>
<circle cx="538.5" cy="331.3" r="6.0" fill="none" stroke="#000" stroke-width="1.3"/>
<rect x="532.30" y="357.70" width="12" height="12" fill="#000"/>
<rect x="535.10" y="393.20" width="11.0" height="11.0" fill="#fff" stroke="#000" stroke-width="1.3"/>
<g fill="none" stroke="#000">
<path d="M502.5,399 H524.8 M537.4,399 H560.5 M574.1,399 H576" stroke-width="2.0"/>
<path d="M504.8,433.1 H573" stroke-width="2.4" stroke-dasharray="10.5 7.5 2 7.5 2 7.5"/>
</g>
<path d="M538.1,426.1 L543.3000000000001,431.3 L538.1,436.5 L532.9,431.3 Z" fill="#000"/>
<g>
<text transform="translate(582.6,309.4) scale(0.96,1)" font-size="29.0" text-anchor="start">CTRL Air</text>
<text transform="translate(582.6,342.3) scale(0.96,1)" font-size="29.0" text-anchor="start">CTRL Map</text>
<text transform="translate(585.0,374.8) scale(0.96,1)" font-size="29.0" text-anchor="start">Dipp</text>
<text transform="translate(585.0,407.4) scale(0.96,1)" font-size="29.0" text-anchor="start">Dough</text>
<text transform="translate(585.0,440.3) scale(0.96,1)" font-size="29.0" text-anchor="start">Dipp/Dough</text>
</g></g>
</svg></body></html>
